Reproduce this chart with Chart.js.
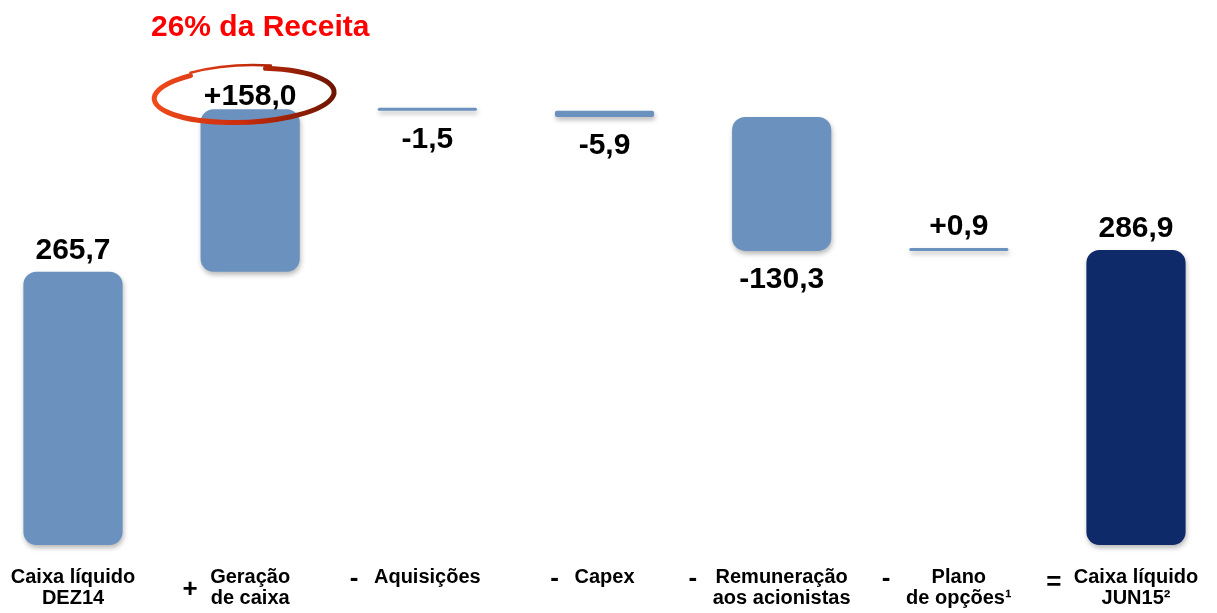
<!DOCTYPE html>
<html>
<head>
<meta charset="utf-8">
<script src="https://cdn.jsdelivr.net/npm/chart.js@4"></script>
<style>
  body { margin: 0; background: #fff; }
  #wrap { width: 1217px; height: 613px; position: relative; }
</style>
</head>
<body>
<div id="wrap"><canvas id="mainChart"></canvas></div>
<script>
const categories = [
  ['Caixa líquido', 'DEZ14'],
  ['Geração', 'de caixa'],
  ['Aquisições'],
  ['Capex'],
  ['Remuneração', 'aos acionistas'],
  ['Plano', 'de opções¹'],
  ['Caixa líquido', 'JUN15²']
];
const operators = ['', '+', '-', '-', '-', '-', '='];
const changes = [265.7, 158.0, -1.5, -5.9, -130.3, 0.9, 286.9];
const isTotal = [true, false, false, false, false, false, true];
const valueLabels = ['265,7', '+158,0', '-1,5', '-5,9', '-130,3', '+0,9', '286,9'];
const highlightNote = '26% da Receita';

const FONT = "'Liberation Sans', Arial, sans-serif";

// floating ranges for the waterfall
let running = 0;
const ranges = changes.map((v, i) => {
  if (isTotal[i]) { running = v; return [0, v]; }
  const start = running;
  running += v;
  return [start, running];
});

function darkFill(ctx) {
  const bar = ctx.chart.getDatasetMeta(0).data[ctx.dataIndex];
  if (!bar || !bar.width) return '#0e2a68';
  const g = ctx.chart.ctx.createLinearGradient(bar.x - bar.width / 2, 0, bar.x + bar.width / 2, 0);
  g.addColorStop(0, '#1d3c80');
  g.addColorStop(0.12, '#0e2a68');
  g.addColorStop(0.88, '#0e2a68');
  g.addColorStop(1, '#1d3c80');
  return g;
}

const shadowPlugin = {
  id: 'shadow',
  beforeDatasetsDraw(chart) {
    const c = chart.ctx;
    c.save();
    c.shadowColor = 'rgba(0,0,0,0.28)';
    c.shadowBlur = 5;
    c.shadowOffsetX = 1;
    c.shadowOffsetY = 3;
  },
  afterDatasetsDraw(chart) {
    chart.ctx.restore();
  }
};

const labelPlugin = {
  id: 'labels',
  afterDatasetsDraw(chart) {
    const c = chart.ctx;
    const bars = chart.getDatasetMeta(0).data;
    c.save();
    c.fillStyle = '#000';
    c.font = `bold 30px ${FONT}`;
    c.textAlign = 'center';
    bars.forEach((b, i) => {
      const top = Math.min(b.y, b.base), bottom = Math.max(b.y, b.base);
      if (changes[i] >= 0) {
        c.textBaseline = 'bottom';
        c.fillText(valueLabels[i], b.x, top - (i === 1 ? -2 : 6));
      } else {
        c.textBaseline = 'top';
        c.fillText(valueLabels[i], b.x, bottom + 14);
      }
    });

    // highlight ring around the cash generation label
    const hb = bars[1];
    const cx = hb.x - 6, cy = Math.min(hb.y, hb.base) - 14;
    const g = c.createLinearGradient(cx - 90, 0, cx + 90, 0);
    g.addColorStop(0, '#f04a1c');
    g.addColorStop(0.5, '#c82c0c');
    g.addColorStop(1, '#6e1500');
    c.strokeStyle = g;
    c.lineCap = 'round';
    c.lineWidth = 5;
    c.beginPath();
    c.ellipse(cx, cy, 90, 27, -0.04, -Math.PI * 0.42, Math.PI * 1.3, false);
    c.stroke();
    c.lineWidth = 2.5;
    c.beginPath();
    c.ellipse(cx, cy - 2, 90, 28, -0.04, Math.PI * 1.3, Math.PI * 1.6, false);
    c.stroke();

    c.fillStyle = '#ff0000';
    c.font = `bold 30px ${FONT}`;
    c.textBaseline = 'middle';
    c.fillText(highlightNote, cx + 16, 28);

    // operators between the category labels
    const xs = chart.scales.x;
    c.fillStyle = '#000';
    c.font = `bold 20px ${FONT}`;
    const widths = categories.map(lines => Math.max(...lines.map(t => c.measureText(t).width)));
    c.font = `bold 26px ${FONT}`;
    operators.forEach((op, i) => {
      if (!op) return;
      const x = xs.getPixelForTick(i) - widths[i] / 2 - 20;
      const y = op === '+' ? 590 : (op === '=' ? 583 : 579);
      c.fillText(op, x, y);
    });
    c.restore();
  }
};

new Chart(document.getElementById('mainChart'), {
  type: 'bar',
  data: {
    labels: categories,
    datasets: [{
      data: ranges,
      backgroundColor: ctx => isTotal[ctx.dataIndex] && ctx.dataIndex > 0 ? darkFill(ctx) : '#6b92bf',
      borderRadius: ctx => Math.abs(changes[ctx.dataIndex]) < 10 ? 2 : 13,
      borderSkipped: false,
      minBarLength: 3,
      categoryPercentage: 0.56,
      barPercentage: 1,
      clip: false
    }]
  },
  options: {
    responsive: true,
    maintainAspectRatio: false,
    animation: false,
    layout: { padding: { left: 73, right: 81, top: 0, bottom: 0 } },
    plugins: { legend: { display: false }, tooltip: { enabled: false } },
    scales: {
      x: {
        offset: false,
        grid: { display: false, drawTicks: false },
        border: { display: false },
        afterFit: s => { s.height = 68; s.paddingLeft = 0; s.paddingRight = 0; },
        ticks: {
          autoSkip: false,
          maxRotation: 0,
          padding: 22,
          color: '#000',
          font: { family: FONT, size: 20, weight: 'bold', lineHeight: 1.05 }
        }
      },
      y: { display: false, min: 0, max: 530 }
    }
  },
  plugins: [shadowPlugin, labelPlugin]
});
</script>
</body>
</html>
